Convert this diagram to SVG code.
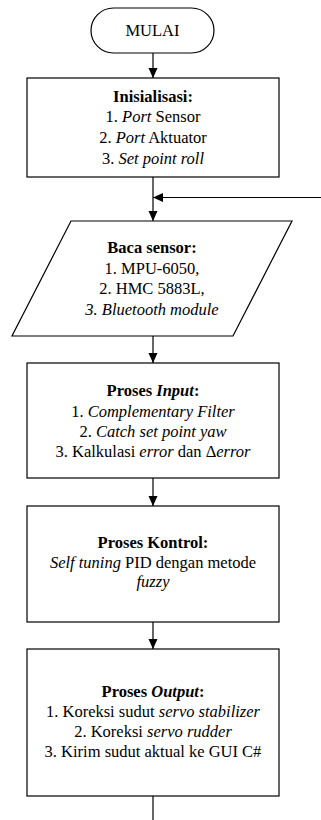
<svg xmlns="http://www.w3.org/2000/svg" width="321" height="820" viewBox="0 0 321 820">
  <style>
    .shape { fill: #ffffff; stroke: #000000; stroke-width: 1.2; }
    .line { fill: none; stroke: #000000; stroke-width: 1.2; }
    text { font-family: "Liberation Serif", "Times New Roman", serif; font-size: 16.5px; fill: #000000; text-anchor: middle; }
    .b { font-weight: bold; }
    .i { font-style: italic; }
  </style>
  <defs>
    <marker id="arrow" markerWidth="10" markerHeight="10" viewBox="0 0 10 10" refX="10" refY="5" orient="auto" markerUnits="userSpaceOnUse">
      <path d="M0,0.5 L10,5 L0,9.5 Z" fill="#000000"/>
    </marker>
  </defs>

  <rect width="321" height="820" fill="#ffffff"/>

  <!-- connectors -->
  <g id="connectors">
    <line class="line" x1="153" y1="53" x2="153" y2="78" marker-end="url(#arrow)"/>
    <line class="line" x1="153" y1="177" x2="153" y2="221" marker-end="url(#arrow)"/>
    <line class="line" x1="321" y1="197.5" x2="153" y2="197.5" marker-end="url(#arrow)"/>
    <line class="line" x1="153" y1="336" x2="153" y2="363" marker-end="url(#arrow)"/>
    <line class="line" x1="153" y1="478" x2="153" y2="506" marker-end="url(#arrow)"/>
    <line class="line" x1="153" y1="622" x2="153" y2="649" marker-end="url(#arrow)"/>
    <line class="line" x1="153" y1="796" x2="153" y2="820"/>
  </g>

  <!-- start terminal -->
  <g id="mulai">
    <rect class="shape" x="91" y="8" width="123" height="45" rx="22.5" ry="22.5"/>
    <text x="152.5" y="36">MULAI</text>
  </g>

  <!-- initialisation -->
  <g id="inisialisasi">
    <rect class="shape" x="27" y="78" width="252" height="99"/>
    <text x="153" y="101.5" class="b">Inisialisasi:</text>
    <text x="153" y="122">1. <tspan class="i">Port</tspan> Sensor</text>
    <text x="153" y="143">2. <tspan class="i">Port</tspan> Aktuator</text>
    <text x="153" y="164">3. <tspan class="i">Set point roll</tspan></text>
  </g>

  <!-- sensor input -->
  <g id="baca-sensor">
    <polygon class="shape" points="71,221 292,221 233,336 12,336"/>
    <text x="152" y="253" class="b">Baca sensor:</text>
    <text x="152" y="273.5">1. MPU-6050,</text>
    <text x="152" y="294">2. HMC 5883L,</text>
    <text x="152" y="315" class="i">3. Bluetooth module</text>
  </g>

  <!-- input processing -->
  <g id="proses-input">
    <rect class="shape" x="27" y="363" width="252" height="115"/>
    <text x="153" y="396" class="b">Proses <tspan class="i">Input</tspan>:</text>
    <text x="153" y="416.5">1. <tspan class="i">Complementary Filter</tspan></text>
    <text x="153" y="436.5">2. <tspan class="i">Catch set point yaw</tspan></text>
    <text x="153" y="456.5">3. Kalkulasi <tspan class="i">error</tspan> dan Δ<tspan class="i">error</tspan></text>
  </g>

  <!-- control processing -->
  <g id="proses-kontrol">
    <rect class="shape" x="27" y="506" width="252" height="116"/>
    <text x="153" y="548" class="b">Proses Kontrol:</text>
    <text x="153" y="568"><tspan class="i">Self tuning</tspan> PID dengan metode</text>
    <text x="153" y="587" class="i">fuzzy</text>
  </g>

  <!-- output processing -->
  <g id="proses-output">
    <rect class="shape" x="27" y="649" width="252" height="147"/>
    <text x="153" y="697" class="b">Proses <tspan class="i">Output</tspan>:</text>
    <text x="153" y="717">1. Koreksi sudut <tspan class="i">servo stabilizer</tspan></text>
    <text x="153" y="737">2. Koreksi <tspan class="i">servo rudder</tspan></text>
    <text x="153" y="757">3. Kirim sudut aktual ke GUI C#</text>
  </g>
</svg>
